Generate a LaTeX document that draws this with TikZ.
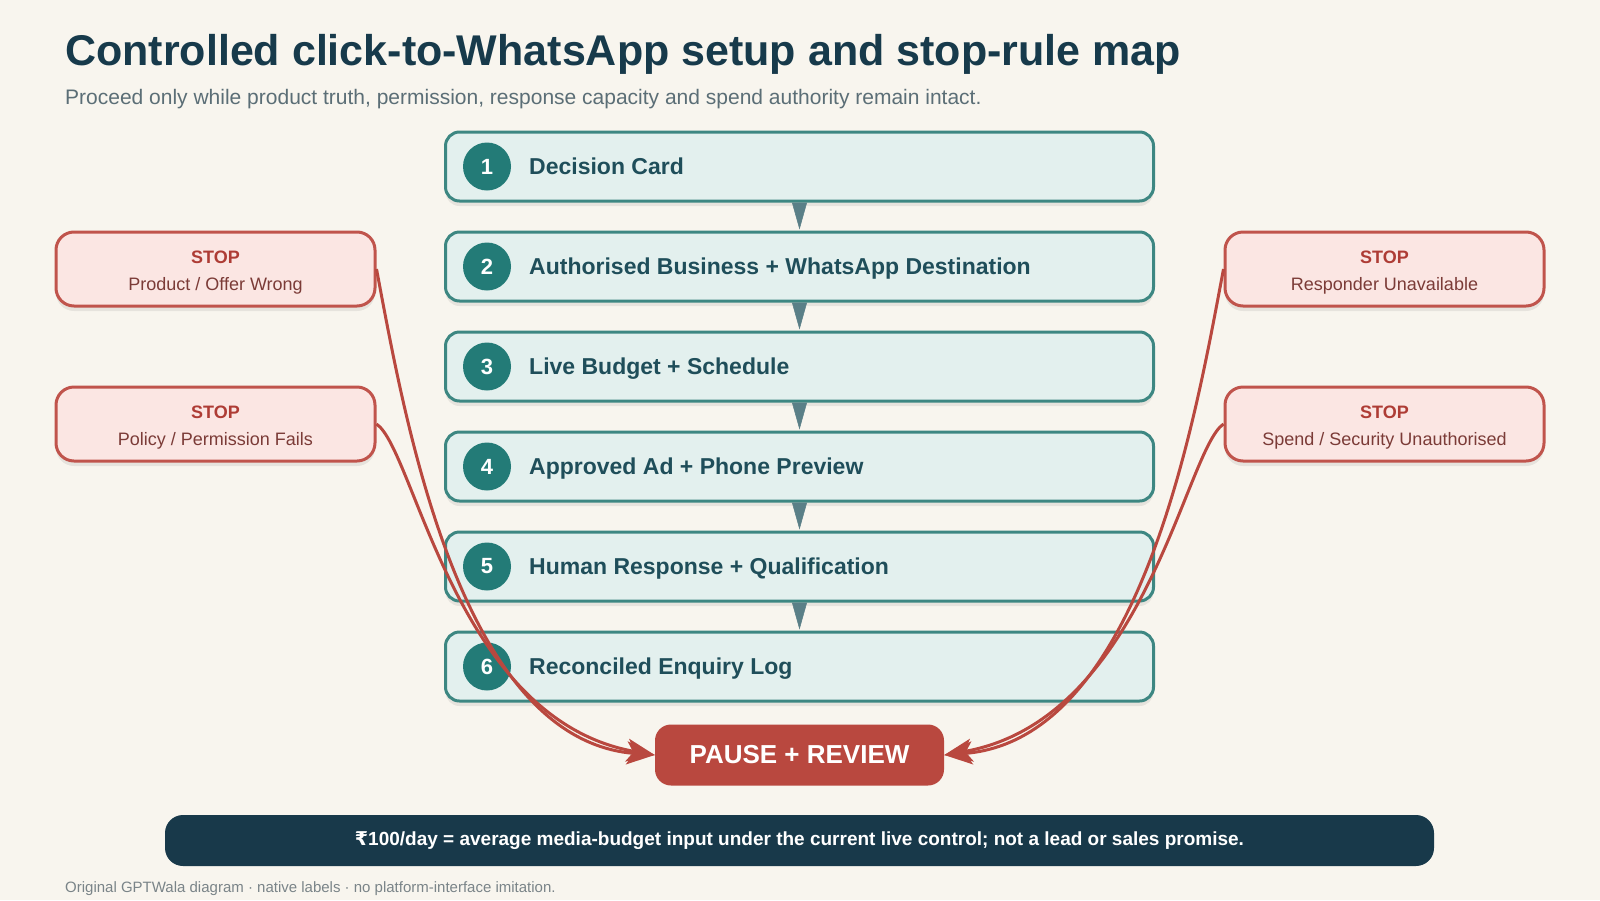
\documentclass[tikz,border=0pt]{standalone}
\usepackage{fontspec}
\setmainfont{Liberation Sans}
\newfontfamily\rupeefont{DejaVu Sans}
\usetikzlibrary{positioning,arrows.meta,shadows}

\definecolor{paper}{HTML}{F8F5EE}
\definecolor{titleblue}{HTML}{173A4B}
\definecolor{subgray}{HTML}{5B6E76}
\definecolor{stepfill}{HTML}{E3F0EE}
\definecolor{stepline}{HTML}{3D8782}
\definecolor{numfill}{HTML}{237B77}
\definecolor{steptext}{HTML}{1F4E5A}
\definecolor{flowgray}{HTML}{5A7F87}
\definecolor{stopfill}{HTML}{FBE6E3}
\definecolor{stopline}{HTML}{C0544C}
\definecolor{stopred}{HTML}{AE3C35}
\definecolor{stoptext}{HTML}{7B3B37}
\definecolor{pausered}{HTML}{B9483F}
\definecolor{barblue}{HTML}{18394A}
\definecolor{footgray}{HTML}{7A8488}

\newcommand{\stoplabel}[1]{{\color{stopred}\bfseries STOP}\\[6pt]{\color{stoptext}#1}}

\begin{document}
\begin{tikzpicture}[%
		x=1pt, y=1pt,
		node distance=28pt,
		>={Triangle[length=27pt,width=15pt]},
		softshadow/.style={%
			drop shadow={shadow xshift=0pt, shadow yshift=-5pt, opacity=.07, fill=black}
		},
		stepbox/.style={%
			draw=stepline,
			fill=stepfill,
			line width=3pt,
			rounded corners=14pt,
			minimum width=708pt,
			minimum height=69pt,
			softshadow
		},
		num/.style={%
			circle,
			fill=numfill,
			minimum size=48pt,
			inner sep=0pt,
			text=white,
			font=\fontsize{22}{26}\selectfont\bfseries
		},
		steplabel/.style={%
			anchor=west,
			inner sep=0pt,
			text height=16.5pt,
			text depth=0pt,
			text=steptext,
			font=\fontsize{23}{27}\selectfont\bfseries
		},
		flow/.style={%
			->,
			draw=flowgray,
			fill=flowgray,
			line width=.5pt,
			shorten >=1pt
		},
		stopbox/.style={%
			draw=stopline,
			fill=stopfill,
			line width=3pt,
			rounded corners=18pt,
			minimum width=319pt,
			minimum height=74pt,
			align=center,
			text height=47pt,
			text depth=4pt,
			font=\fontsize{18}{21}\selectfont,
			softshadow
		},
		stopcurve/.style={%
			-{Stealth[length=28pt,width=23pt,inset=7pt]},
			draw=pausered,
			line width=3pt
		}
		]
		\useasboundingbox[fill=paper] (0,0) rectangle (1600,-900);

		% title
		\node[anchor=base west, inner sep=0pt, text=titleblue, font=\fontsize{43}{50}\selectfont\bfseries] (title) at (65,-65)
		{Controlled click-to-WhatsApp setup and stop-rule map};
		\node[anchor=base west, inner sep=0pt, text=subgray, font=\fontsize{21}{25}\selectfont] (subtitle) at (65,-104)
		{Proceed only while product truth, permission, response capacity and spend authority remain intact.};

		% steps
		\node[stepbox] (1) at (799.5,-166.5)              {};
		\node[stepbox] (2) [below=of 1]                   {};
		\node[stepbox] (3) [below=of 2]                   {};
		\node[stepbox] (4) [below=of 3]                   {};
		\node[stepbox] (5) [below=of 4]                   {};
		\node[stepbox] (6) [below=of 5]                   {};

		\node[num] (n1) at ([xshift=43pt]1.west) {1};
		\node[num] (n2) at ([xshift=43pt]2.west) {2};
		\node[num] (n3) at ([xshift=43pt]3.west) {3};
		\node[num] (n4) at ([xshift=43pt]4.west) {4};
		\node[num] (n5) at ([xshift=43pt]5.west) {5};
		\node[num] (n6) at ([xshift=43pt]6.west) {6};

		\node[steplabel] (t1) at ([xshift=85pt]1.west) {Decision Card};
		\node[steplabel] (t2) at ([xshift=85pt]2.west) {Authorised Business + WhatsApp Destination};
		\node[steplabel] (t3) at ([xshift=85pt]3.west) {Live Budget + Schedule};
		\node[steplabel] (t4) at ([xshift=85pt]4.west) {Approved Ad + Phone Preview};
		\node[steplabel] (t5) at ([xshift=85pt]5.west) {Human Response + Qualification};
		\node[steplabel] (t6) at ([xshift=85pt]6.west) {Reconciled Enquiry Log};

		\path[flow] (1) edge (2)
		(2) edge (3)
		(3) edge (4)
		(4) edge (5)
		(5) edge (6);

		% stop rules
		\node[stopbox] (stopA) at (215.5,-269)  {\stoplabel{Product / Offer Wrong}};
		\node[stopbox] (stopB) at (215.5,-424)  {\stoplabel{Policy / Permission Fails}};
		\node[stopbox] (stopC) at (1384.5,-269) {\stoplabel{Responder Unavailable}};
		\node[stopbox] (stopD) at (1384.5,-424) {\stoplabel{Spend / Security Unauthorised}};

		\node[fill=pausered, rounded corners=16pt, minimum width=289pt, minimum height=61pt,
		text=white, font=\fontsize{26}{31}\selectfont\bfseries] (pause) at (799.5,-755) {PAUSE + REVIEW};

		\draw[stopcurve] (stopA.east) .. controls (405,-420) and (460,-740) .. (pause.west);
		\draw[stopcurve] (stopB.east) .. controls (415,-450) and (455,-720) .. (pause.west);
		\draw[stopcurve] (stopC.west) .. controls (1195,-420) and (1140,-740) .. (pause.east);
		\draw[stopcurve] (stopD.west) .. controls (1185,-450) and (1145,-720) .. (pause.east);

		% note and footer
		\node[fill=barblue, rounded corners=18pt, minimum width=1269pt, minimum height=51pt,
		text=white, font=\fontsize{19}{23}\selectfont\bfseries] (note) at (799.5,-840.5)
		{{\rupeefont\bfseries ₹}100/day = average media-budget input under the current live control; not a lead or sales promise.};
		\node[anchor=base west, inner sep=0pt, text=footgray, font=\fontsize{15}{18}\selectfont] (footer) at (65,-892)
		{Original GPTWala diagram · native labels · no platform-interface imitation.};
\end{tikzpicture}
\end{document}
